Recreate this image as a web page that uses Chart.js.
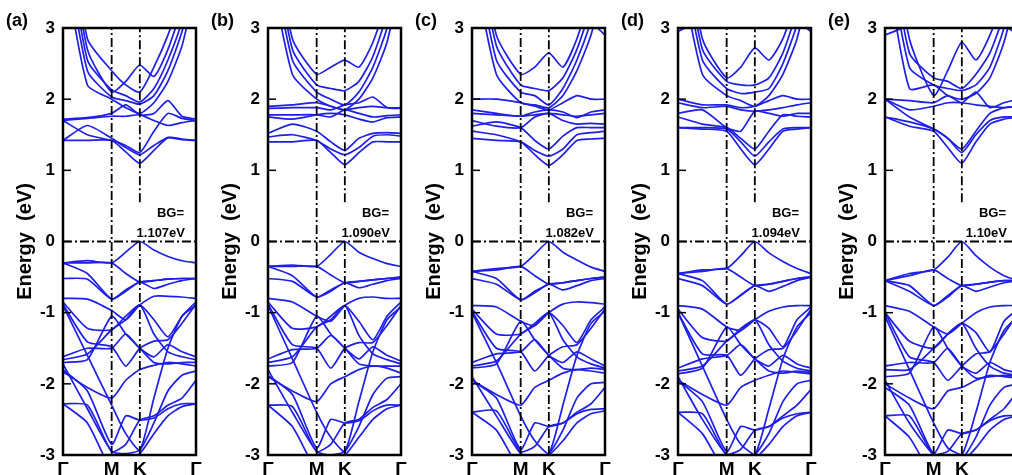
<!DOCTYPE html>
<html>
<head>
<meta charset="utf-8">
<script src="https://cdn.jsdelivr.net/npm/chart.js@4.4.0/dist/chart.umd.min.js"></script>
<style>
    body { margin: 0; width: 1012px; height: 475px; overflow: hidden; background: #fff; position: relative; }
    canvas { position: absolute; top: 0; }
</style>
</head>
<body>
<canvas id="panelA" width="204" height="475" style="left:0px"></canvas>
<canvas id="panelB" width="204" height="475" style="left:205px"></canvas>
<canvas id="panelC" width="204" height="475" style="left:409px"></canvas>
<canvas id="panelD" width="204" height="475" style="left:615px"></canvas>
<canvas id="panelE" width="204" height="475" style="left:822px"></canvas>
<script>
// k-path nodes along Γ - M - K - Γ
const kPath = [0, 0.289, 0.577, 0.744, 0.911, 1.078, 1.244, 1.411, 1.577];
const kTickValues = [0, 0.577, 0.911, 1.577];
const kTickLabels = ["Γ", "M", "K", "Γ"];
const energyTicks = [-3, -2, -1, 0, 1, 2, 3];
const panelLabels = ["(a)", "(b)", "(c)", "(d)", "(e)"];
const bandGaps = ["1.107eV", "1.090eV", "1.082eV", "1.094eV", "1.10eV"];

// band energies (eV) at each kPath node
const condA = [
    [1.42, 1.42, 1.42, 1.26, 1.10, 1.28, 1.46, 1.44, 1.42],
    [1.42, 1.63, 1.45, 1.32, 1.22, 1.35, 1.46, 1.43, 1.42],
    [1.70, 1.50, 1.42, 1.35, 1.25, 1.55, 1.80, 1.73, 1.70],
    [1.70, 1.73, 1.76, 1.76, 1.78, 1.70, 1.63, 1.67, 1.70],
    [1.72, 1.74, 1.80, 1.92, 1.78, 1.80, 1.98, 1.76, 1.72],
    [4.00, 2.20, 2.00, 1.88, 1.80, 1.95, 2.25, 2.75, 3.60],
    [4.30, 2.40, 2.03, 1.98, 1.93, 2.05, 2.40, 2.95, 3.80],
    [4.60, 2.55, 2.13, 2.05, 1.96, 2.15, 2.55, 3.10, 4.00],
    [4.80, 2.70, 2.10, 2.25, 2.48, 2.32, 2.70, 3.30, 4.30],
    [5.00, 2.85, 2.40, 2.20, 2.10, 2.45, 2.90, 3.50, 4.50]
];
const valA = [
    [-0.30, -0.27, -0.30, -0.15, 0.00, -0.12, -0.21, -0.27, -0.30],
    [-0.30, -0.30, -0.30, -0.45, -0.57, -0.55, -0.53, -0.52, -0.52],
    [-0.30, -0.45, -0.81, -0.68, -0.57, -0.55, -0.53, -0.52, -0.52],
    [-0.52, -0.53, -0.81, -0.70, -0.57, -0.66, -0.60, -0.55, -0.52],
    [-0.80, -0.81, -0.97, -1.10, -0.89, -0.77, -0.77, -0.78, -0.80],
    [-0.85, -1.22, -1.24, -1.05, -0.89, -1.10, -1.34, -1.05, -0.85],
    [-0.88, -1.41, -1.48, -1.75, -1.50, -1.40, -1.38, -1.15, -0.88],
    [-0.90, -1.60, -2.30, -2.70, -2.93, -2.20, -1.50, -1.05, -0.90],
    [-1.62, -1.50, -1.50, -1.30, -1.50, -1.62, -1.45, -1.55, -1.62],
    [-1.66, -1.58, -1.24, -1.10, -0.89, -1.30, -1.55, -1.62, -1.66],
    [-1.70, -1.66, -1.05, -1.30, -1.50, -1.70, -1.72, -1.70, -1.70],
    [-1.83, -2.05, -2.20, -1.95, -1.80, -1.74, -1.70, -1.72, -1.75],
    [-1.80, -2.10, -2.85, -2.45, -2.51, -2.48, -2.35, -2.28, -2.28],
    [-1.72, -2.35, -2.95, -2.98, -2.93, -2.55, -2.10, -1.88, -1.82],
    [-2.28, -2.30, -2.95, -2.85, -2.51, -2.45, -2.30, -2.20, -1.95],
    [-2.28, -2.55, -3.20, -3.05, -2.98, -2.70, -2.45, -2.32, -2.28]
];

const condB = [
    [1.40, 1.40, 1.42, 1.25, 1.08, 1.25, 1.40, 1.40, 1.40],
    [1.47, 1.50, 1.42, 1.30, 1.22, 1.32, 1.48, 1.50, 1.48],
    [1.52, 1.65, 1.55, 1.40, 1.28, 1.45, 1.52, 1.53, 1.52],
    [1.75, 1.72, 1.78, 1.80, 1.78, 1.72, 1.68, 1.74, 1.75],
    [1.78, 1.78, 1.78, 1.75, 1.85, 1.80, 1.75, 1.77, 1.78],
    [1.87, 1.88, 1.88, 1.85, 1.92, 1.95, 2.03, 1.88, 1.87],
    [1.90, 1.92, 1.95, 1.90, 1.85, 1.88, 1.90, 1.88, 1.88],
    [4.00, 2.35, 2.00, 1.90, 1.85, 2.00, 2.30, 2.80, 3.70],
    [4.30, 2.55, 2.10, 2.00, 1.92, 2.10, 2.45, 3.00, 3.90],
    [4.60, 2.70, 2.20, 2.15, 2.12, 2.25, 2.60, 3.20, 4.10],
    [4.80, 2.85, 2.35, 2.45, 2.55, 2.45, 2.80, 3.40, 4.40]
];
const valB = [
    [-0.35, -0.33, -0.35, -0.18, 0.00, -0.15, -0.24, -0.31, -0.35],
    [-0.35, -0.35, -0.35, -0.47, -0.58, -0.56, -0.54, -0.52, -0.50],
    [-0.35, -0.48, -0.78, -0.68, -0.58, -0.56, -0.54, -0.52, -0.50],
    [-0.52, -0.56, -0.78, -0.70, -0.58, -0.65, -0.60, -0.55, -0.52],
    [-0.80, -0.85, -1.05, -1.12, -0.90, -0.80, -0.78, -0.80, -0.80],
    [-0.85, -1.22, -1.20, -1.05, -0.90, -1.12, -1.38, -1.05, -0.85],
    [-0.88, -1.45, -1.50, -1.78, -1.50, -1.42, -1.42, -1.18, -0.90],
    [-0.90, -1.65, -2.40, -2.75, -2.95, -2.25, -1.55, -1.10, -0.92],
    [-1.65, -1.52, -1.50, -1.32, -1.50, -1.65, -1.48, -1.60, -1.68],
    [-1.70, -1.62, -1.20, -1.10, -0.90, -1.32, -1.58, -1.66, -1.72],
    [-1.75, -1.70, -1.05, -1.30, -1.50, -1.72, -1.75, -1.75, -1.75],
    [-1.90, -2.10, -2.25, -2.00, -1.90, -1.80, -1.75, -1.78, -1.85],
    [-1.88, -2.15, -2.90, -2.50, -2.55, -2.52, -2.38, -2.30, -2.30],
    [-1.80, -2.40, -2.95, -3.00, -2.95, -2.60, -2.15, -1.92, -1.90],
    [-2.30, -2.32, -2.95, -2.85, -2.55, -2.50, -2.33, -2.22, -2.00],
    [-2.30, -2.60, -3.20, -3.05, -3.00, -2.75, -2.50, -2.35, -2.30]
];

const condC = [
    [1.45, 1.42, 1.40, 1.22, 1.07, 1.22, 1.42, 1.44, 1.45],
    [1.55, 1.50, 1.40, 1.28, 1.20, 1.30, 1.50, 1.53, 1.55],
    [1.62, 1.68, 1.60, 1.42, 1.30, 1.48, 1.60, 1.60, 1.60],
    [1.70, 1.62, 1.60, 1.75, 1.80, 1.70, 1.65, 1.66, 1.65],
    [1.80, 1.78, 1.76, 1.78, 1.80, 1.78, 1.76, 1.78, 1.80],
    [1.85, 1.80, 1.76, 1.82, 1.85, 1.82, 1.74, 1.82, 1.85],
    [2.00, 2.00, 1.95, 1.90, 1.85, 1.95, 2.05, 2.00, 2.00],
    [4.00, 2.35, 1.95, 1.92, 1.88, 2.05, 2.40, 2.90, 3.70],
    [4.30, 2.55, 2.10, 2.05, 1.92, 2.15, 2.55, 3.10, 3.90],
    [4.60, 2.75, 2.20, 2.15, 2.12, 2.30, 2.70, 3.30, 4.20],
    [4.80, 2.90, 2.35, 2.45, 2.65, 2.45, 2.85, 3.50, 4.40],
    [3.00, 3.20, 3.60, 3.80, 4.00, 3.80, 3.50, 3.10, 2.90]
];
const valC = [
    [-0.42, -0.38, -0.35, -0.18, 0.00, -0.15, -0.26, -0.36, -0.42],
    [-0.42, -0.40, -0.35, -0.48, -0.60, -0.58, -0.55, -0.52, -0.50],
    [-0.42, -0.52, -0.82, -0.70, -0.60, -0.58, -0.55, -0.52, -0.50],
    [-0.52, -0.60, -0.82, -0.72, -0.60, -0.68, -0.62, -0.55, -0.52],
    [-0.90, -0.92, -1.12, -1.18, -1.00, -0.88, -0.85, -0.86, -0.88],
    [-0.95, -1.30, -1.30, -1.15, -1.00, -1.18, -1.42, -1.10, -0.92],
    [-0.98, -1.50, -1.55, -1.82, -1.60, -1.48, -1.45, -1.22, -0.95],
    [-1.00, -1.70, -2.45, -2.80, -2.98, -2.30, -1.60, -1.15, -0.98],
    [-1.70, -1.58, -1.55, -1.38, -1.60, -1.70, -1.55, -1.65, -1.75],
    [-1.75, -1.68, -1.30, -1.18, -1.00, -1.38, -1.62, -1.72, -1.78],
    [-1.78, -1.72, -1.12, -1.38, -1.60, -1.78, -1.80, -1.78, -1.80],
    [-1.95, -2.15, -2.30, -2.05, -1.95, -1.85, -1.80, -1.82, -1.85],
    [-1.95, -2.20, -2.92, -2.55, -2.60, -2.55, -2.42, -2.36, -2.35],
    [-1.90, -2.45, -2.98, -3.02, -2.98, -2.65, -2.20, -2.00, -1.98],
    [-2.40, -2.38, -2.95, -2.88, -2.60, -2.55, -2.40, -2.28, -2.05],
    [-2.40, -2.65, -3.20, -3.05, -3.00, -2.80, -2.55, -2.42, -2.38]
];

const condD = [
    [1.60, 1.58, 1.55, 1.30, 1.08, 1.30, 1.55, 1.58, 1.60],
    [1.60, 1.60, 1.58, 1.40, 1.20, 1.40, 1.58, 1.60, 1.60],
    [1.75, 1.65, 1.60, 1.45, 1.30, 1.55, 1.78, 1.76, 1.75],
    [1.80, 1.85, 1.60, 1.55, 1.83, 1.80, 1.76, 1.80, 1.80],
    [1.95, 1.88, 1.90, 1.85, 1.83, 1.85, 1.88, 1.92, 1.95],
    [2.00, 1.92, 1.92, 1.88, 1.90, 1.98, 2.05, 2.00, 2.00],
    [4.00, 2.35, 2.05, 1.98, 1.90, 2.05, 2.35, 2.85, 3.70],
    [4.30, 2.55, 2.15, 2.08, 2.10, 2.15, 2.50, 3.05, 3.90],
    [4.60, 2.70, 2.25, 2.20, 2.20, 2.30, 2.65, 3.25, 4.10],
    [4.80, 2.85, 2.30, 2.45, 2.72, 2.55, 2.85, 3.45, 4.30],
    [2.95, 3.15, 3.50, 3.70, 3.90, 3.70, 3.40, 3.10, 2.95]
];
const valD = [
    [-0.45, -0.40, -0.38, -0.20, 0.00, -0.16, -0.28, -0.38, -0.45],
    [-0.45, -0.42, -0.38, -0.50, -0.62, -0.60, -0.56, -0.52, -0.50],
    [-0.45, -0.55, -0.88, -0.75, -0.62, -0.60, -0.56, -0.52, -0.50],
    [-0.52, -0.62, -0.88, -0.76, -0.62, -0.70, -0.63, -0.55, -0.50],
    [-0.90, -0.95, -1.20, -1.25, -1.10, -0.98, -0.92, -0.90, -0.90],
    [-0.95, -1.35, -1.40, -1.22, -1.10, -1.22, -1.48, -1.10, -0.92],
    [-1.00, -1.58, -1.60, -1.88, -1.65, -1.52, -1.50, -1.25, -0.95],
    [-1.00, -1.75, -2.50, -2.85, -3.00, -2.35, -1.65, -1.20, -1.00],
    [-1.78, -1.65, -1.60, -1.45, -1.65, -1.75, -1.60, -1.72, -1.78],
    [-1.82, -1.75, -1.40, -1.25, -1.10, -1.45, -1.68, -1.78, -1.82],
    [-1.86, -1.78, -1.20, -1.45, -1.65, -1.82, -1.85, -1.82, -1.84],
    [-1.95, -2.15, -2.30, -2.05, -1.95, -1.88, -1.82, -1.84, -1.86],
    [-1.95, -2.25, -2.95, -2.60, -2.65, -2.60, -2.48, -2.42, -2.40],
    [-1.90, -2.50, -3.00, -3.05, -3.00, -2.70, -2.25, -2.00, -1.95],
    [-2.40, -2.42, -3.00, -2.92, -2.65, -2.60, -2.45, -2.30, -2.08],
    [-2.40, -2.70, -3.25, -3.10, -3.05, -2.85, -2.60, -2.45, -2.40]
];

const condE = [
    [1.75, 1.62, 1.55, 1.32, 1.10, 1.40, 1.65, 1.72, 1.75],
    [1.75, 1.68, 1.58, 1.45, 1.25, 1.50, 1.70, 1.75, 1.75],
    [2.00, 1.75, 1.58, 1.45, 1.30, 1.55, 1.80, 1.88, 1.90],
    [2.00, 1.85, 1.90, 1.95, 1.95, 1.92, 1.90, 1.88, 1.90],
    [2.00, 1.98, 1.95, 2.05, 1.95, 2.10, 1.88, 1.95, 2.00],
    [4.00, 2.15, 2.20, 2.05, 2.00, 2.08, 2.30, 2.80, 3.60],
    [4.30, 2.45, 2.20, 2.15, 2.12, 2.20, 2.45, 3.00, 3.80],
    [4.60, 2.65, 2.30, 2.25, 2.15, 2.35, 2.65, 3.20, 4.10],
    [4.80, 2.85, 2.05, 2.40, 2.80, 2.55, 2.90, 3.45, 4.40],
    [2.90, 3.05, 3.40, 3.60, 3.80, 3.60, 3.30, 3.05, 2.90]
];
const valE = [
    [-0.55, -0.45, -0.40, -0.22, 0.00, -0.20, -0.36, -0.48, -0.55],
    [-0.55, -0.48, -0.40, -0.52, -0.62, -0.60, -0.57, -0.55, -0.55],
    [-0.55, -0.62, -0.90, -0.76, -0.62, -0.60, -0.57, -0.55, -0.55],
    [-0.55, -0.70, -0.90, -0.78, -0.62, -0.70, -0.64, -0.58, -0.55],
    [-0.90, -0.98, -1.20, -1.30, -1.15, -1.00, -0.92, -0.90, -0.90],
    [-1.00, -1.40, -1.50, -1.30, -1.15, -1.28, -1.55, -1.12, -0.95],
    [-1.00, -1.62, -1.70, -1.95, -1.75, -1.58, -1.55, -1.30, -1.00],
    [-1.05, -1.80, -2.55, -2.90, -3.00, -2.40, -1.70, -1.25, -1.05],
    [-1.75, -1.70, -1.70, -1.50, -1.75, -1.85, -1.70, -1.80, -1.85],
    [-1.80, -1.80, -1.50, -1.30, -1.15, -1.50, -1.75, -1.85, -1.88],
    [-1.90, -1.85, -1.20, -1.50, -1.75, -1.92, -1.90, -1.88, -1.90],
    [-2.00, -2.20, -2.35, -2.10, -2.05, -1.95, -1.88, -1.90, -1.92],
    [-2.05, -2.30, -2.98, -2.65, -2.70, -2.65, -2.52, -2.45, -2.45],
    [-1.95, -2.55, -3.00, -3.05, -3.05, -2.75, -2.30, -2.05, -2.00],
    [-2.45, -2.45, -3.00, -2.95, -2.70, -2.65, -2.50, -2.35, -2.10],
    [-2.45, -2.75, -3.30, -3.15, -3.10, -2.90, -2.65, -2.50, -2.45]
];

const panelBands = [
    condA.concat(valA),
    condB.concat(valB),
    condC.concat(valC),
    condD.concat(valD),
    condE.concat(valE)
];
const canvasIds = ["panelA", "panelB", "panelC", "panelD", "panelE"];

const BAND_COLOR = "#1e1ee6";
const DASH = [9, 3, 2, 3];
const FONT = "'Liberation Sans', Arial, sans-serif";

Chart.defaults.font.family = FONT;
Chart.defaults.color = "#000";

// frame, inner ticks, BG note and panel letter
const decorPlugin = {
    id: "decor",
    afterDatasetsDraw(chart, args, opts) {
        const ctx = chart.ctx;
        const area = chart.chartArea;
        const ys = chart.scales.y;
        ctx.save();
        ctx.strokeStyle = "#000";
        ctx.lineWidth = 1.5;
        energyTicks.forEach(v => {
            const py = ys.getPixelForValue(v);
            ctx.beginPath();
            ctx.moveTo(area.left, py);
            ctx.lineTo(area.left + 8, py);
            ctx.stroke();
        });
        ctx.lineWidth = 2.5;
        ctx.strokeRect(area.left, area.top, area.right - area.left, area.bottom - area.top);

        ctx.fillStyle = "#000";
        ctx.font = "bold 13px " + FONT;
        ctx.textAlign = "right";
        ctx.textBaseline = "middle";
        ctx.fillText("BG=", area.right - 12, ys.getPixelForValue(0.39));
        ctx.fillText(opts.gap, area.right - 11, ys.getPixelForValue(0.12));

        ctx.font = "bold 18px " + FONT;
        ctx.textAlign = "left";
        ctx.fillText(opts.label, 6, 21);
        ctx.restore();
    }
};

function makePanel(i) {
    const datasets = [];
    // dash-dot guides at M, K and the Fermi level
    datasets.push({
        data: [{ x: kTickValues[1], y: -3 }, { x: kTickValues[1], y: 3 }],
        borderColor: "#000", borderWidth: 1.8, borderDash: DASH, order: 0
    });
    datasets.push({
        data: [{ x: kTickValues[2], y: -3 }, { x: kTickValues[2], y: 0 },
               { x: kTickValues[2], y: null }, { x: kTickValues[2], y: 0.55 }, { x: kTickValues[2], y: 3 }],
        borderColor: "#000", borderWidth: 1.8, borderDash: DASH, order: 0, spanGaps: false
    });
    datasets.push({
        data: [{ x: kTickValues[0], y: 0 }, { x: kTickValues[3], y: 0 }],
        borderColor: "#000", borderWidth: 1.8, borderDash: DASH, order: 0
    });
    panelBands[i].forEach(band => {
        datasets.push({
            data: band.map((e, j) => ({ x: kPath[j], y: e })),
            borderColor: BAND_COLOR,
            borderWidth: 1.7,
            tension: 0.2,
            order: 1
        });
    });

    new Chart(document.getElementById(canvasIds[i]), {
        type: "line",
        data: { datasets: datasets },
        options: {
            responsive: false,
            animation: false,
            events: [],
            layout: { padding: { top: 28, right: 8, left: 0, bottom: 0 } },
            elements: { point: { radius: 0 }, line: { fill: false } },
            plugins: {
                legend: { display: false },
                tooltip: { enabled: false },
                decor: { label: panelLabels[i], gap: bandGaps[i] }
            },
            scales: {
                x: {
                    type: "linear",
                    min: kTickValues[0],
                    max: kTickValues[3],
                    grid: { display: false, drawTicks: false },
                    border: { display: false },
                    afterBuildTicks: s => { s.ticks = kTickValues.map(v => ({ value: v })); },
                    afterFit: s => { s.height = 20; s.paddingLeft = 0; s.paddingRight = 0; },
                    ticks: {
                        autoSkip: false,
                        maxRotation: 0,
                        padding: 3,
                        font: { size: 19, weight: "bold" },
                        callback: (v, idx) => kTickLabels[idx]
                    }
                },
                y: {
                    min: -3,
                    max: 3,
                    grid: { display: false, drawTicks: false },
                    border: { display: false },
                    afterBuildTicks: s => { s.ticks = energyTicks.map(v => ({ value: v })); },
                    afterFit: s => { s.width = 63; s.paddingTop = 0; s.paddingBottom = 0; },
                    ticks: {
                        padding: 8,
                        font: { size: 17, weight: "bold" }
                    },
                    title: {
                        display: true,
                        text: "Energy  (eV)",
                        font: { size: 20, weight: "bold" },
                        padding: { top: 13, bottom: 0 }
                    }
                }
            }
        },
        plugins: [decorPlugin]
    });
}

for (let i = 0; i < canvasIds.length; i++) {
    makePanel(i);
}
</script>
</body>
</html>
